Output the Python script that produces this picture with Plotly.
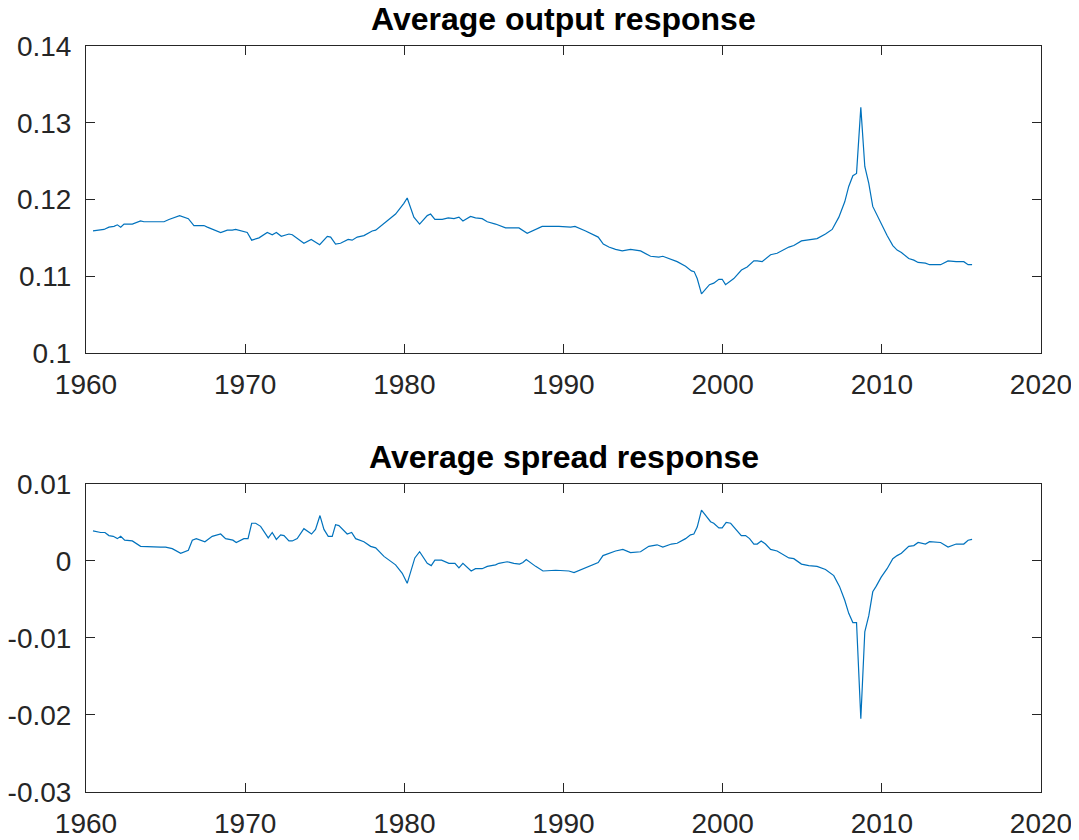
import plotly.graph_objects as go

# ---- data ----
out_t = [1960.44, 1961.13, 1961.44, 1961.76, 1961.97, 1962.18, 1962.39, 1962.91, 1963.43, 1963.64,
         1964.90, 1965.21, 1965.88, 1966.43, 1966.78, 1967.41, 1967.62, 1968.46, 1968.88, 1969.19,
         1969.40, 1970.13, 1970.41, 1970.87, 1971.39, 1971.70, 1971.96, 1972.27, 1972.75, 1972.96,
         1973.69, 1974.15, 1974.68, 1975.16, 1975.37, 1975.68, 1975.99, 1976.47, 1976.72, 1977.04,
         1977.46, 1977.98, 1978.20, 1978.72, 1979.45, 1979.97, 1980.18, 1980.60, 1980.96, 1981.44,
         1981.65, 1981.92, 1982.38, 1982.76, 1983.12, 1983.43, 1983.68, 1984.16, 1984.47, 1984.89,
         1985.21, 1985.73, 1986.36, 1987.20, 1987.72, 1988.66, 1989.71, 1990.45, 1990.72, 1991.39,
         1992.18, 1992.50, 1992.85, 1993.27, 1993.69, 1994.21, 1994.84, 1995.47, 1995.99, 1996.24,
         1996.72, 1997.14, 1997.67, 1998.04, 1998.21, 1998.40, 1998.67, 1999.17, 1999.44, 1999.76,
         1999.97, 2000.18, 2000.70, 2001.18, 2001.54, 2001.96, 2002.17, 2002.48, 2003.01, 2003.42,
         2004.16, 2004.47, 2004.95, 2005.41, 2005.93, 2006.46, 2006.88, 2007.30, 2007.67, 2007.92,
         2008.18, 2008.41, 2008.68, 2008.93, 2009.18, 2009.43, 2009.64, 2009.96, 2010.33, 2010.69,
         2010.96, 2011.23, 2011.69, 2012.01, 2012.28, 2012.74, 2013.00, 2013.69, 2014.16, 2014.67,
         2015.15, 2015.42, 2015.67]
out_v = [0.1159, 0.1161, 0.1164, 0.1165, 0.1167, 0.1164, 0.1168, 0.1168, 0.1172, 0.1171,
         0.1171, 0.1174, 0.1179, 0.1175, 0.1166, 0.1166, 0.1164, 0.1157, 0.1160, 0.1160,
         0.1161, 0.1157, 0.1147, 0.1150, 0.1157, 0.1154, 0.1157, 0.1152, 0.1155, 0.1154,
         0.1143, 0.1148, 0.1141, 0.1152, 0.1151, 0.1142, 0.1143, 0.1148, 0.1147, 0.1151,
         0.1153, 0.1159, 0.1160, 0.1169, 0.1181, 0.1195, 0.1202, 0.1177, 0.1168, 0.1179,
         0.1181, 0.1174, 0.1174, 0.1176, 0.1175, 0.1177, 0.1172, 0.1178, 0.1176, 0.1175,
         0.1171, 0.1168, 0.1163, 0.1163, 0.1156, 0.1165, 0.1165, 0.1164, 0.1165, 0.1159,
         0.1151, 0.1142, 0.1138, 0.1135, 0.1133, 0.1135, 0.1133, 0.1126, 0.1125, 0.1126,
         0.1122, 0.1119, 0.1113, 0.1107, 0.1106, 0.1097, 0.1077, 0.1089, 0.1091, 0.1096,
         0.1096, 0.1089, 0.1097, 0.1108, 0.1112, 0.1120, 0.1120, 0.1119, 0.1128, 0.1130,
         0.1138, 0.1140, 0.1146, 0.1147, 0.1149, 0.1155, 0.1161, 0.1177, 0.1197, 0.1217,
         0.1231, 0.1234, 0.1320, 0.1243, 0.1221, 0.1191, 0.1182, 0.1167, 0.1153, 0.1140,
         0.1134, 0.1131, 0.1123, 0.1121, 0.1118, 0.1117, 0.1115, 0.1115, 0.1120, 0.1119,
         0.1119, 0.1115, 0.1115]

spr_t = [1960.44, 1960.92, 1961.19, 1961.44, 1961.71, 1961.97, 1962.18, 1962.43, 1962.91, 1963.43,
         1964.69, 1965.00, 1965.42, 1965.95, 1966.43, 1966.68, 1966.93, 1967.47, 1967.93, 1968.46,
         1968.77, 1969.23, 1969.44, 1969.92, 1970.18, 1970.41, 1970.66, 1970.97, 1971.45, 1971.70,
         1971.96, 1972.23, 1972.44, 1972.75, 1972.96, 1973.27, 1973.69, 1974.17, 1974.42, 1974.70,
         1974.95, 1975.22, 1975.47, 1975.68, 1975.89, 1976.41, 1976.69, 1976.94, 1977.46, 1977.88,
         1978.20, 1978.72, 1979.45, 1979.87, 1980.18, 1980.66, 1980.96, 1981.44, 1981.69, 1981.92,
         1982.34, 1982.80, 1983.18, 1983.43, 1983.68, 1984.20, 1984.47, 1984.89, 1985.21, 1985.73,
         1985.94, 1986.46, 1986.88, 1987.24, 1987.45, 1987.66, 1988.25, 1988.71, 1989.51, 1990.34,
         1990.66, 1991.28, 1992.18, 1992.48, 1992.85, 1993.27, 1993.73, 1994.21, 1994.84, 1995.36,
         1995.88, 1996.24, 1996.78, 1997.14, 1997.67, 1997.98, 1998.19, 1998.40, 1998.67, 1999.24,
         1999.44, 1999.76, 1999.97, 2000.22, 2000.50, 2000.81, 2001.17, 2001.44, 2001.69, 2001.96,
         2002.17, 2002.42, 2002.69, 2003.01, 2003.42, 2004.16, 2004.47, 2004.95, 2005.41, 2005.93,
         2006.46, 2006.98, 2007.34, 2007.67, 2007.92, 2008.18, 2008.41, 2008.68, 2008.93, 2009.18,
         2009.43, 2009.64, 2009.96, 2010.33, 2010.69, 2010.96, 2011.23, 2011.69, 2012.01, 2012.28,
         2012.74, 2013.00, 2013.69, 2014.16, 2014.67, 2015.15, 2015.42, 2015.67]
spr_v = [0.0039, 0.0037, 0.0037, 0.0033, 0.0032, 0.0029, 0.0032, 0.0027, 0.0026, 0.0019,
         0.0018, 0.0018, 0.0016, 0.0010, 0.0014, 0.0027, 0.0029, 0.0025, 0.0032, 0.0035,
         0.0029, 0.0027, 0.0024, 0.0029, 0.0029, 0.0049, 0.0049, 0.0045, 0.0030, 0.0037,
         0.0028, 0.0034, 0.0033, 0.0026, 0.0026, 0.0029, 0.0042, 0.0035, 0.0041, 0.0059,
         0.0041, 0.0032, 0.0032, 0.0047, 0.0046, 0.0035, 0.0037, 0.0029, 0.0025, 0.0019,
         0.0017, 0.0006, -0.0005, -0.0016, -0.0029, 0.0004, 0.0012, -0.0003, -0.0006, 0.0001,
         0.0001, -0.0003, -0.0003, -0.0009, -0.0003, -0.0013, -0.0010, -0.0010, -0.0007, -0.0005,
         -0.0003, -0.0001, -0.0003, -0.0004, -0.0002, 0.0002, -0.0007, -0.0013, -0.0012, -0.0013,
         -0.0015, -0.0010, -0.0002, 0.0007, 0.0010, 0.0013, 0.0015, 0.0011, 0.0012, 0.0019,
         0.0021, 0.0018, 0.0022, 0.0023, 0.0029, 0.0034, 0.0035, 0.0044, 0.0066, 0.0051,
         0.0049, 0.0043, 0.0043, 0.0050, 0.0049, 0.0042, 0.0033, 0.0033, 0.0029, 0.0022,
         0.0022, 0.0026, 0.0022, 0.0015, 0.0013, 0.0004, 0.0003, -0.0004, -0.0006, -0.0007,
         -0.0011, -0.0019, -0.0033, -0.0051, -0.0068, -0.0080, -0.0080, -0.0205, -0.0092, -0.0071,
         -0.0040, -0.0033, -0.0021, -0.0010, 0.0003, 0.0007, 0.0010, 0.0019, 0.0020, 0.0024,
         0.0022, 0.0025, 0.0024, 0.0018, 0.0022, 0.0022, 0.0027, 0.0028]

x_ticks = [1960, 1970, 1980, 1990, 2000, 2010, 2020]
y1_ticks = [0.10, 0.11, 0.12, 0.13, 0.14]
y1_labels = ["0.1", "0.11", "0.12", "0.13", "0.14"]
y2_ticks = [-0.03, -0.02, -0.01, 0.0, 0.01]
y2_labels = ["-0.03", "-0.02", "-0.01", "0", "0.01"]
titles = ["Average output response", "Average spread response"]

LINE = "#0072BD"
AX = "#262626"
FONT = "Liberation Sans, Arial, sans-serif"

fig = go.Figure()
fig.add_trace(go.Scatter(x=out_t, y=out_v, mode="lines", line=dict(color=LINE, width=1.2),
                         xaxis="x", yaxis="y", showlegend=False))
fig.add_trace(go.Scatter(x=spr_t, y=spr_v, mode="lines", line=dict(color=LINE, width=1.2),
                         xaxis="x2", yaxis="y2", showlegend=False))

top_dom = [0.5885, 1.0]
bot_dom = [0.0, 0.4129]

common = dict(showline=True, linecolor=AX, linewidth=1, mirror="allticks", ticks="inside",
              ticklen=9, tickcolor=AX, tickwidth=1, showgrid=False, zeroline=False,
              automargin=False, tickfont=dict(family=FONT, size=28, color=AX))
xcommon = dict(common, ticklabelstandoff=6)
ycommon = dict(common, ticklabelstandoff=8)

# the page body adds an 8px offset, so the figure is 8px smaller in each direction
fig.update_layout(
    width=1071, height=832,
    margin=dict(l=78, r=38, t=38, b=48),
    paper_bgcolor="white", plot_bgcolor="white",
    xaxis=dict(domain=[0, 1], range=[1960, 2020], tickvals=x_ticks, anchor="y", **xcommon),
    yaxis=dict(domain=top_dom, range=[0.10, 0.14], tickvals=y1_ticks, ticktext=y1_labels,
               anchor="x", **ycommon),
    xaxis2=dict(domain=[0, 1], range=[1960, 2020], tickvals=x_ticks, anchor="y2", **xcommon),
    yaxis2=dict(domain=bot_dom, range=[-0.03, 0.01], tickvals=y2_ticks, ticktext=y2_labels,
                anchor="x2", **ycommon),
    annotations=[
        dict(text="<b>%s</b>" % titles[0], x=0.5, y=top_dom[1], xref="paper", yref="paper",
             xanchor="center", yanchor="bottom", yshift=7, showarrow=False,
             font=dict(family=FONT, size=32, color="black")),
        dict(text="<b>%s</b>" % titles[1], x=0.5, y=bot_dom[1], xref="paper", yref="paper",
             xanchor="center", yanchor="bottom", yshift=7, showarrow=False,
             font=dict(family=FONT, size=32, color="black")),
    ],
)

fig.write_html("out.html")
